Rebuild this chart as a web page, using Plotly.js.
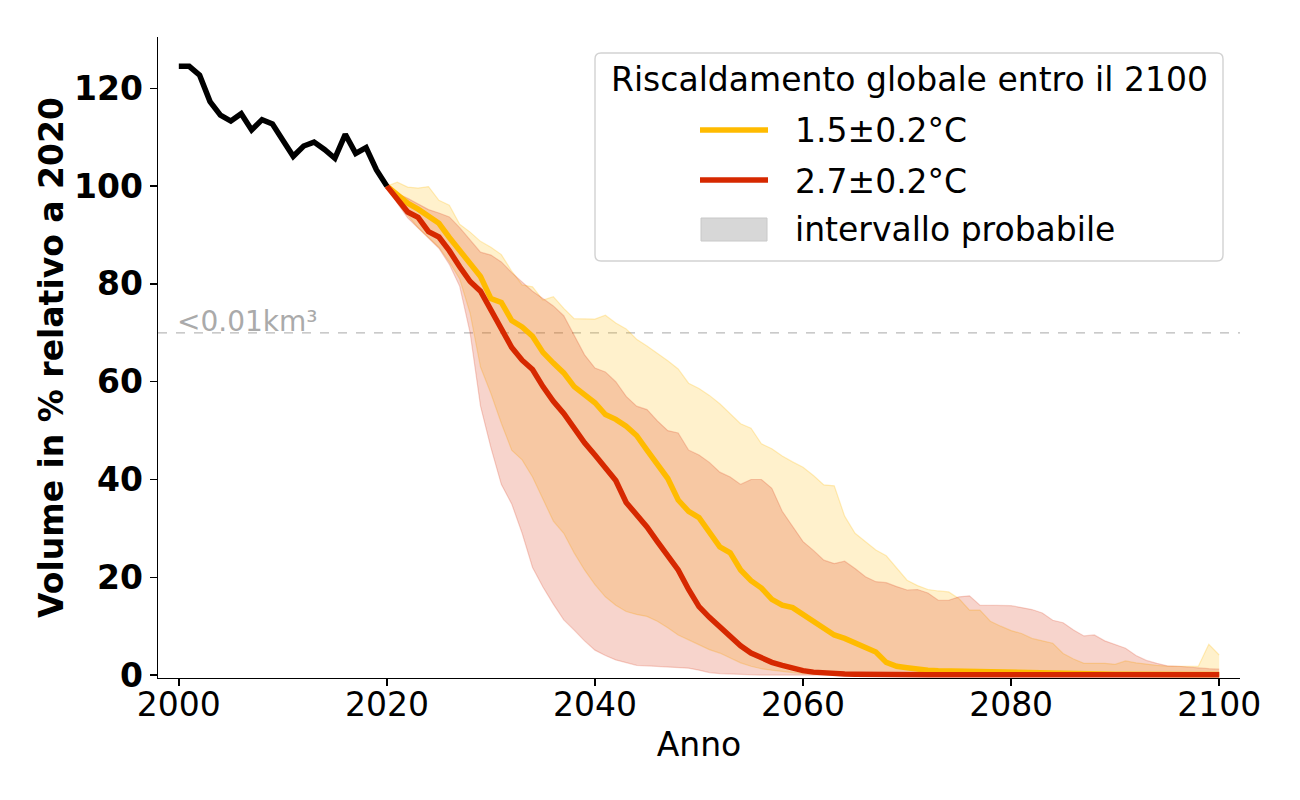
<!DOCTYPE html>
<html>
<head>
<meta charset="utf-8">
<script src="https://cdn.plot.ly/plotly-3.0.1.min.js"></script>
<style>html,body{margin:0;padding:0;background:#fff;}#chart{width:1300px;height:800px;}</style>
</head>
<body>
<div id="chart"></div>
<script>
// ---------- data ----------
const histYears = [2000,2001,2002,2003,2004,2005,2006,2007,2008,2009,2010,2011,2012,2013,2014,2015,2016,2017,2018,2019,2020];
const histVals  = [124.5,124.5,122.7,117.3,114.5,113.3,114.8,111.5,113.6,112.7,109.4,106.1,108.2,109.0,107.5,105.7,110.6,106.7,107.9,103.3,100];

const projYears = [];
for (let y = 2020; y <= 2100; y++) projYears.push(y);

// median 1.5 ± 0.2 °C
const med15 = [100,98.3,96.5,95.3,93.9,92.4,89.5,86.8,84,81.5,
  77,76.2,72.5,71.2,69.3,66,63.8,61.8,59,57.3,
  55.7,53.3,52.3,50.9,49,46,43.3,40.2,35.8,33.5,
  32.2,29.3,26.2,25,21.5,19.3,17.8,15.5,14.3,13.8,
  12.4,11,9.5,8.2,7.5,6.6,5.6,4.7,2.6,1.8,
  1.5,1.2,1.0,0.9,0.85,0.8,0.7,0.6,0.5,0.45,
  0.4,0.35,0.3,0.3,0.25,0.25,0.2,0.2,0.2,0.15,
  0.15,0.15,0.1,0.1,0.1,0.1,0.1,0.1,0.1,0.1,0.1];
// median 2.7 ± 0.2 °C
const med27 = [100,97.5,94.7,93.6,90.7,89.6,86.8,83.5,80.5,78.5,
  74.5,70.5,67,64.4,62.5,59,56,53.5,50.5,47.5,
  45,42.3,39.8,35.3,33,30.3,27.3,24.3,21.5,17.5,
  14,11.8,9.8,7.8,6,4.5,3.5,2.6,2.0,1.4,
  0.9,0.6,0.4,0.3,0.2,0.15,0.1,0.1,0.1,0.1,
  0.05,0.05,0.05,0.05,0.05,0.05,0.05,0.05,0.05,0.05,
  0.05,0.05,0.05,0.05,0.05,0.05,0.05,0.05,0.05,0.05,
  0.05,0.05,0.05,0.05,0.05,0.05,0.05,0.05,0.05,0.05,0.05];
// likely range 1.5 °C
const up15 = [100,100.8,99.8,99.6,99.9,97.1,96.1,92.2,90.6,88.7,
  87.5,86,82.6,79.8,79.4,76.7,77.4,75,72.9,72.8,
  72.8,73.6,72,70.8,68.7,67.3,65.8,64.3,62.6,59.7,
  58.6,57.2,55.5,53.5,51.4,50.5,47.3,46.3,44.8,43.6,
  42.5,40.8,38.9,38.7,32.5,29,27.2,25.6,24.4,21.8,
  19.4,18.3,17.5,17.2,17.0,15.6,13.3,13.3,11,10,
  9.1,8.5,7.5,7,6.5,4.4,3.3,2.4,2.4,2.4,
  2.2,2.9,2.5,2.2,2.0,1.8,1.8,1.8,1.8,6.3,4.1];
const lo15 = [100,97,94,91.5,89.5,87.5,84.5,81,74,63,
  57.6,51.5,46,44,40.5,36,31.5,29,25,21.5,
  18.5,16,14.3,13,12.4,12,11,9.7,8.2,7.2,
  6.2,5.2,4.5,3.5,2.5,1.8,1.3,1.0,0.7,0.5,
  0.3,0.2,0.1,0.05,0,0,0,0,0,0,
  0,0,0,0,0,0,0,0,0,0,
  0,0,0,0,0,0,0,0,0,0,
  0,0,0,0,0,0,0,0,0,0,0];
// likely range 2.7 °C
const up27 = [100,98.5,97.5,96.3,95.2,94.5,93.7,91.5,89,86.5,
  85.9,84.5,82.3,80.5,78.5,77,75.5,73.5,69.5,65.5,
  62.8,62,60,57,55,54.3,52,50,49.5,46,
  45,43.5,41.5,40.5,39,40,40,38.2,33.5,30.5,
  27.3,25.5,23.5,22.8,23.3,21.8,20.1,19.1,18.9,18.1,
  17.4,17.5,16.8,15.3,15.3,16,16.2,14.3,14.3,14.3,
  14.2,13.8,13.4,12.7,11.2,10.7,9.2,8,8.2,7.0,
  6.2,5.5,4.0,3.0,2.4,1.9,1.8,1.6,1.4,1.3,1.2];
const lo27 = [100,96.5,93.5,91.5,89.5,87.3,84,79.5,70,55,
  46.5,39,35,29,22,18,14.5,11.3,9.2,7,
  5.1,4,3.1,2.5,2.0,1.9,1.8,1.7,1.6,1.4,
  1.0,0.5,0.3,0.2,0.1,0,0,0,0,0,
  0,0,0,0,0,0,0,0,0,0,
  0,0,0,0,0,0,0,0,0,0,
  0,0,0,0,0,0,0,0,0,0,
  0,0,0,0,0,0,0,0,0,0,0];

const xTicks = [2000,2020,2040,2060,2080,2100];
const yTicks = [0,20,40,60,80,100,120];
const names = ["1.5±0.2°C","2.7±0.2°C","intervallo probabile"];
const legendTitle = "Riscaldamento globale entro il 2100";
const thresholdValue = 70;
const thresholdLabel = "<0.01km³";

// ---------- styles ----------
const YEL = "rgb(255,187,0)";
const RED = "rgb(214,40,0)";
const FONT = "DejaVu Sans, sans-serif";

const traces = [
  {x: projYears, y: lo15, mode: "lines", line: {color: "rgba(255,187,0,0.25)", width: 1.2}, showlegend: false, hoverinfo: "skip"},
  {x: projYears, y: up15, mode: "lines", fill: "tonexty", fillcolor: "rgba(255,187,0,0.2)", line: {color: "rgba(255,187,0,0.25)", width: 1.2}, showlegend: false, hoverinfo: "skip"},
  {x: projYears, y: lo27, mode: "lines", line: {color: "rgba(214,40,0,0.2)", width: 1.2}, showlegend: false, hoverinfo: "skip"},
  {x: projYears, y: up27, mode: "lines", fill: "tonexty", fillcolor: "rgba(214,40,0,0.2)", line: {color: "rgba(214,40,0,0.2)", width: 1.2}, showlegend: false, hoverinfo: "skip"},
  {x: projYears, y: med15, mode: "lines", name: names[0], line: {color: YEL, width: 5.5}, showlegend: false},
  {x: projYears, y: med27, mode: "lines", name: names[1], line: {color: RED, width: 5.5}, showlegend: false},
  {x: histYears, y: histVals, mode: "lines", line: {color: "black", width: 5.5}, showlegend: false}
];

// ---------- legend box (drawn in paper coordinates) ----------
const PL = 158, PR = 1240, PT = 37, PB = 678;
const px = v => (v - PL) / (PR - PL);
const py = v => (PB - v) / (PB - PT);
function roundRect(x0, y0, x1, y1, r) {
  const X0 = px(x0), X1 = px(x1), Y0 = py(y1), Y1 = py(y0);
  const rx = r / (PR - PL), ry = r / (PB - PT);
  return `M${X0+rx},${Y0} L${X1-rx},${Y0} Q${X1},${Y0} ${X1},${Y0+ry} L${X1},${Y1-ry} Q${X1},${Y1} ${X1-rx},${Y1} ` +
         `L${X0+rx},${Y1} Q${X0},${Y1} ${X0},${Y1-ry} L${X0},${Y0+ry} Q${X0},${Y0} ${X0+rx},${Y0} Z`;
}

const shapes = [
  {type: "line", xref: "paper", x0: 0, x1: 1, yref: "y", y0: thresholdValue, y1: thresholdValue,
   line: {color: "rgb(185,185,185)", width: 1.2, dash: "dash"}, layer: "below"},
  {type: "path", xref: "paper", yref: "paper", path: roundRect(595, 53, 1223, 261, 6),
   fillcolor: "rgba(255,255,255,0.85)", line: {color: "rgb(210,210,210)", width: 1.4}, layer: "above"},
  {type: "line", xref: "paper", yref: "paper", x0: px(700), x1: px(768), y0: py(130), y1: py(130),
   line: {color: YEL, width: 5.5}, layer: "above"},
  {type: "line", xref: "paper", yref: "paper", x0: px(700), x1: px(768), y0: py(180), y1: py(180),
   line: {color: RED, width: 5.5}, layer: "above"},
  {type: "rect", xref: "paper", yref: "paper", x0: px(701), x1: px(767), y0: py(241), y1: py(218),
   fillcolor: "rgb(215,215,215)", line: {color: "rgb(200,200,200)", width: 1}, layer: "above"}
];

const legendFont = {size: 33, family: FONT, color: "black"};
const annotations = [
  {x: 2000, y: thresholdValue, xref: "x", yref: "y", text: thresholdLabel, showarrow: false,
   xanchor: "left", yanchor: "bottom", xshift: -4, yshift: -7, font: {size: 28, color: "rgb(170,170,170)", family: FONT}},
  {x: px(909), y: py(80), xref: "paper", yref: "paper", text: legendTitle, showarrow: false,
   xanchor: "center", yanchor: "middle", font: legendFont},
  {x: px(793), y: py(131), xref: "paper", yref: "paper", text: names[0], showarrow: false,
   xanchor: "left", yanchor: "middle", font: legendFont},
  {x: px(793), y: py(181), xref: "paper", yref: "paper", text: names[1], showarrow: false,
   xanchor: "left", yanchor: "middle", font: legendFont},
  {x: px(793), y: py(230), xref: "paper", yref: "paper", text: names[2], showarrow: false,
   xanchor: "left", yanchor: "middle", font: legendFont}
];

const layout = {
  width: 1300, height: 800,
  paper_bgcolor: "white", plot_bgcolor: "white",
  font: {family: FONT, color: "black", size: 33},
  margin: {l: PL, r: 1300 - PR, t: PT, b: 800 - PB, pad: 0},
  xaxis: {
    range: [1998, 2102], tickvals: xTicks, ticktext: xTicks.map(String),
    showgrid: false, zeroline: false, showline: true, linecolor: "black", linewidth: 1.4,
    ticks: "outside", ticklen: 7, tickwidth: 1.4, tickcolor: "black",
    tickfont: {size: 33, family: FONT}, ticklabelstandoff: -10,
    title: {text: "Anno", font: {size: 33, family: FONT}, standoff: 10},
    automargin: false
  },
  yaxis: {
    range: [-0.6, 130.5], tickvals: yTicks, ticktext: yTicks.map(String),
    showgrid: false, zeroline: false, showline: true, linecolor: "black", linewidth: 1.4,
    ticks: "outside", ticklen: 7, tickwidth: 1.4, tickcolor: "black",
    tickfont: {size: 33, family: FONT, weight: "bold"},
    title: {text: "Volume in % relativo a 2020", font: {size: 33, family: FONT, weight: "bold"}, standoff: 0},
    automargin: false
  },
  shapes: shapes,
  annotations: annotations,
  showlegend: false
};

Plotly.newPlot("chart", traces, layout, {displayModeBar: false, staticPlot: true});
</script>
</body>
</html>
